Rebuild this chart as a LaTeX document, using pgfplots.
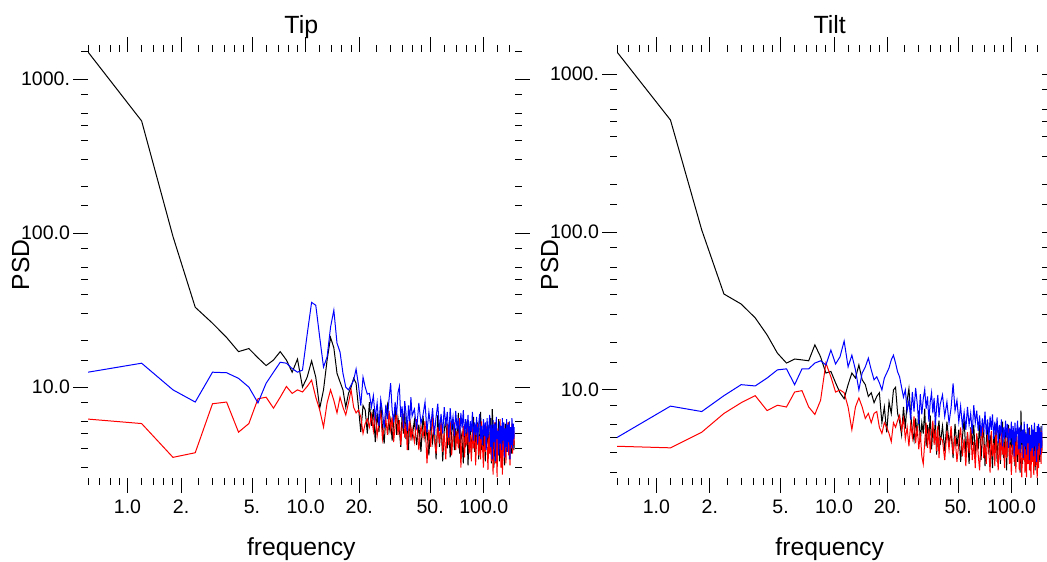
\documentclass[border=0pt]{standalone}
\usepackage{fontspec}
\setmainfont{Liberation Sans}
\usepackage{pgfplots}
\usepackage{pgfplotstable}
\pgfplotsset{compat=1.18}

% f = frequency, k = black, b = blue, r = red
\pgfplotstableread{
f k b r
0.6 1500 12.5 6.2
1.2 535 14.3 5.8
1.8 95 9.6 3.5
2.4 33 8.0 3.75
3.0 26 12.5 7.8
3.6 21 12.4 8.0
4.2 17 11.4 5.1
4.8 17.8 10.0 5.8
5.4 15.5 7.9 8.4
6.0 13.8 10.6 8.6
6.6 15 12.5 7.3
7.2 17 14.5 8.6
7.8 15 14.3 10.1
8.4 12.5 13.2 9.1
9.0 15.2 12.5 9.6
9.6 10 12.9 9.3
10.2 11.6 22 10.1
10.8 14.8 35.5 11.1
11.4 11.6 34 8.6
12.0 7.3 21 7.1
12.6 9.6 13.5 5.5
13.2 15 15.7 7.9
13.8 21 24.5 9.6
14.4 18 31.6 8.2
15.0 12.3 19.3 6.8
15.6 10.8 16.9 8.6
16.2 9.6 12.3 7.4
16.8 7.4 10 6.6
17.4 9.1 9.6 7.9
18.0 10 10.3 9.6
18.6 11.4 11.1 7.4
19.2 10.6 13.1 6.8
19.8 7.4 10.3 7.1
20.4 5.1 7.6 6.4
21.0 7.6 11.6 5.0
21.6 7.1 10 5.8
22.2 5.0 9.0 6.2
22.8 8.0 9.1 5.5
23.4 5.6 7.4 6.6
24.0 7.2 8.8 5.2
24.6 4.4 6.3 6.9
25.2 6.8 7.9 4.8
25.8 5.1 5.6 5.9
26.4 7.9 8.3 6.8
27.0 5.5 6.9 4.6
27.6 4.3 5.4 5.5
28.2 6.4 7.7 6.2
28.8 7.6 6.2 4.9
29.4 5.2 8.4 7.0
30.0 6.1 10.6 5.3
30.6 4.5 7.1 6.4
31.2 5.8 5.9 4.4
31.8 7.4 8.0 5.7
32.4 4.9 6.6 6.9
33.0 6.3 9.2 4.9
33.6 5.3 10.1 6.1
34.2 4.1 6.4 4.2
34.8 6.7 7.5 5.6
35.4 5.0 5.4 6.7
36.0 7.0 8.1 4.7
36.6 4.6 6.8 5.8
37.2 5.9 5.2 3.9
37.8 3.9 7.6 5.1
38.4 6.2 6.0 6.3
39.0 5.4 8.6 4.5
39.6 4.7 6.5 5.4
40.8 6.1 7.2 4.4
42.0 4.2 5.3 6.2
43.2 5.7 7.9 3.9
44.4 3.8 5.8 5.6
45.6 6.5 6.6 4.7
46.8 4.6 8.0 6.0
48.0 5.3 5.1 3.2
49.2 3.6 6.9 5.3
50.4 6.0 5.5 4.1
51.6 4.4 7.3 6.4
52.8 5.5 4.9 4.6
54.0 3.4 6.4 3.7
55.2 6.6 7.8 5.5
56.4 4.1 5.2 4.3
57.6 5.8 6.7 6.1
58.8 3.3 5.0 3.8
60.0 5.2 7.4 5.0
61.2 6.3 5.6 3.4
62.4 4.0 6.9 5.8
63.6 5.6 4.7 4.2
64.8 3.5 7.3 6.0
66.0 5.0 5.5 3.6
67.2 6.2 6.4 4.8
68.4 3.9 4.8 5.9
69.6 5.4 7.0 3.9
70.8 4.3 5.3 5.2
72.0 6.8 6.3 4.0
73.2 3.7 4.6 6.3
74.4 5.1 6.8 3.0
75.6 4.5 5.4 4.7
76.8 3.2 7.1 5.6
78.0 5.7 4.8 3.5
79.2 4.1 6.2 5.0
80.4 6.0 5.0 4.2
81.6 3.1 6.6 6.1
82.8 4.9 4.4 3.7
84.0 5.8 6.0 4.9
85.2 3.6 5.1 3.3
86.4 4.8 6.9 5.4
87.6 6.4 4.5 4.0
88.8 3.8 5.9 5.7
90.0 5.0 4.9 3.1
91.2 4.2 6.4 4.6
92.4 5.9 4.3 5.8
93.6 3.4 5.7 3.6
94.8 4.7 6.7 4.8
96.0 6.9 4.6 3.4
97.2 3.9 5.6 6.0
98.4 5.2 4.2 4.1
99.6 4.0 6.2 3.0
100.8 5.6 4.8 5.1
102.0 3.3 5.9 3.8
103.2 4.9 3.9 5.6
104.4 4.3 6.3 4.4
105.6 5.7 4.7 2.9
106.8 3.7 5.5 4.9
108.0 4.6 6.6 3.7
109.2 6.3 4.1 5.5
110.4 3.2 5.7 3.3
111.6 7.2 3.4 4.6
112.8 5.4 6.1 2.7
114.0 3.0 4.4 4.3
115.2 4.4 5.8 5.9
116.4 5.9 3.3 3.2
117.6 3.5 6.4 4.8
118.8 4.9 4.6 2.6
120.0 4.1 5.2 5.4
121.2 6.2 3.6 3.6
122.4 3.3 6.0 4.4
123.6 5.1 4.3 6.2
124.8 4.4 5.6 3.0
126.0 3.6 3.9 4.9
127.2 5.5 6.3 2.7
128.4 4.0 4.5 4.0
129.6 4.7 5.9 5.6
130.8 3.1 3.5 3.5
132.0 5.8 5.4 4.7
133.2 4.3 4.1 3.2
134.4 3.8 6.2 5.3
135.6 5.3 3.8 4.1
136.8 4.1 5.7 5.9
138.0 5.9 4.4 3.6
139.2 3.4 6.0 4.5
140.4 4.6 3.4 3.1
141.6 5.2 5.5 5.2
142.8 3.7 4.2 4.0
144.0 4.9 6.3 5.8
145.2 4.2 4.0 3.7
146.4 5.6 5.8 4.6
147.6 3.9 4.6 5.2
148.8 4.5 5.5 4.2
}\tipdata

\pgfplotstableread{
f k b r
0.6 1380 5.0 4.4
1.2 512 7.9 4.3
1.8 103 7.3 5.4
2.4 40.5 9.2 7.1
3.0 35 10.8 8.3
3.6 28.6 10.6 9.2
4.2 22.3 11.9 7.4
4.8 17.1 13.4 8.0
5.4 14.8 13.6 7.8
6.0 15.7 10.8 9.7
6.6 15.5 13.6 9.9
7.2 15.3 13.6 7.8
7.8 19.3 14.8 7.0
8.4 16.2 15.3 8.6
9.0 12.8 14.4 14.8
9.6 13.1 17.9 12.1
10.2 11.1 14.6 9.7
10.8 9.6 16.2 10
11.4 8.8 20.4 9.6
12.0 10.8 14.0 7.8
12.6 12.8 16.6 5.6
13.2 11.9 13.4 7.8
13.8 14.4 10 8.9
14.4 11.6 12.8 7.8
15.0 10.8 14 6.6
15.6 9.1 15.9 7.1
16.2 9.6 13.4 6.2
16.8 8.3 11.6 7.1
17.4 9.1 12.1 7.3
18.0 9.6 11.1 5.8
18.6 6.2 10 5.3
19.2 7.8 11.9 6.2
19.8 5.4 12.8 5.8
20.4 8.4 13.8 5.3
21.0 7.1 15.5 4.7
21.6 10 16.6 6.2
22.2 10.4 14.8 5.8
22.8 7.1 13.0 6.4
23.4 6.3 12.1 6.9
24.0 5.2 10.4 5.6
24.6 7.8 9.0 6.6
25.2 5.7 10.0 4.9
25.8 8.6 7.4 5.8
26.4 10.2 8.6 4.4
27.0 7.0 6.5 6.1
27.6 5.6 9.7 5.0
28.2 4.8 7.3 6.8
28.8 6.6 10.3 4.6
29.4 5.1 8.2 5.9
30.0 7.4 6.1 4.2
30.6 4.7 9.4 5.4
31.2 6.2 7.0 3.8
31.8 5.3 8.8 3.4
32.4 7.6 10.1 4.7
33.0 4.4 7.6 6.2
33.6 6.0 9.1 4.3
34.2 5.0 6.3 5.7
34.8 6.9 8.4 4.0
35.4 4.2 9.6 5.3
36.0 5.8 7.1 6.4
36.6 4.9 8.9 4.5
37.2 6.5 6.0 5.6
37.8 3.9 7.8 4.1
38.4 5.5 9.3 5.9
39.0 6.4 6.7 3.7
39.6 4.5 8.1 5.0
40.8 5.9 9.3 4.8
42.0 4.1 6.8 3.6
43.2 6.3 8.4 5.5
44.4 4.6 6.2 4.2
45.6 5.4 7.7 5.9
46.8 3.7 11.0 3.9
48.0 6.1 7.4 5.1
49.2 4.4 8.6 3.5
50.4 5.6 6.3 4.6
51.6 3.5 7.9 5.8
52.8 5.0 5.9 3.8
54.0 6.5 7.2 4.9
55.2 4.0 5.6 3.3
56.4 5.3 7.8 5.4
57.6 3.4 6.0 4.0
58.8 5.8 7.1 5.7
60.0 4.5 5.3 3.6
61.2 6.0 8.0 4.7
62.4 3.8 6.2 3.2
63.6 5.1 7.4 5.3
64.8 4.2 5.5 3.9
66.0 6.4 6.9 3.1
67.2 3.6 5.1 4.8
68.4 4.9 6.6 5.9
69.6 5.7 5.4 3.7
70.8 3.3 7.3 4.5
72.0 4.8 5.2 3.4
73.2 6.2 6.5 5.2
74.4 3.9 4.8 4.1
75.6 5.2 6.8 3.0
76.8 4.4 5.6 5.5
78.0 3.2 7.0 3.8
79.2 5.5 4.9 4.6
80.4 4.0 6.3 3.3
81.6 6.1 5.2 5.6
82.8 3.5 6.7 4.0
84.0 4.7 4.6 3.1
85.2 5.8 6.0 4.9
86.4 3.4 5.3 3.6
87.6 4.9 6.5 5.3
88.8 6.3 4.4 3.9
90.0 3.7 5.8 4.6
91.2 4.5 4.9 3.2
92.4 5.6 6.4 5.0
93.6 3.1 5.0 3.7
94.8 4.8 6.1 4.4
96.0 6.0 4.3 5.7
97.2 3.6 5.7 3.4
98.4 4.3 4.8 4.5
99.6 5.4 6.3 2.9
100.8 3.9 4.5 4.2
102.0 5.0 5.9 5.4
103.2 4.2 3.8 3.5
104.4 3.3 6.2 4.7
105.6 5.7 4.7 3.0
106.8 4.1 5.5 5.1
108.0 3.5 6.4 3.9
109.2 5.3 4.2 4.4
110.4 4.4 5.8 3.1
111.6 3.0 4.0 5.3
112.8 7.4 6.0 3.7
114.0 4.6 4.6 2.8
115.2 3.4 5.6 4.5
116.4 5.1 3.7 3.6
117.6 4.0 6.3 5.6
118.8 5.6 4.4 3.0
120.0 3.2 5.3 4.2
121.2 4.7 3.9 2.8
122.4 5.4 6.1 4.9
123.6 3.7 4.6 3.4
124.8 4.3 5.7 5.7
126.0 5.8 3.6 3.1
127.2 3.3 5.2 4.3
128.4 4.9 4.1 2.7
129.6 4.1 6.0 4.6
130.8 5.5 4.3 3.5
132.0 3.6 5.6 5.0
133.2 4.5 3.8 2.9
134.4 5.9 6.2 4.1
135.6 3.1 4.4 3.3
136.8 4.6 5.4 5.4
138.0 5.2 3.5 3.8
139.2 3.8 5.9 2.7
140.4 4.9 4.2 4.4
141.6 4.0 6.1 3.2
142.8 5.6 4.6 5.1
144.0 3.5 5.8 3.9
145.2 4.4 3.9 4.6
146.4 5.9 5.4 3.4
147.6 4.1 4.3 5.5
148.8 4.8 6.0 4.0
}\tiltdata

\begin{document}
\begin{tikzpicture}
\path[use as bounding box] (0,0) rectangle (523.5bp,281bp);

\begin{axis}[name=tip, at={(44bp,42bp)}, anchor=south west,
    scale only axis, width=213.3bp, height=213bp,
    xmode=log, ymode=log,
    xmin=0.6, xmax=149, ymin=2.57, ymax=1500,
    axis line style={draw=none},
    tick align=outside,
    tick style={black, line width=0.5bp},
    major tick length=7.5bp, minor tick length=3.5bp,
    xtick={1,2,5,10,20,50,100},
    xticklabels={1.0,2.,5.,10.0,20.,50.,100.0},
    minor xtick={0.6,0.7,0.8,0.9,1.2,1.4,1.6,1.8,2.5,3,3.5,4,4.5,6,7,8,9,12,14,16,18,25,30,35,40,45,60,70,80,90,120,140},
    ytick={10,100,1000},
    yticklabels={10.0,100.0,1000.},
    minor ytick={3,4,5,6,8,15,20,30,40,50,60,80,150,200,300,400,500,600,800,1500},
    tick label style={font=\fontsize{9.8}{11}\selectfont},
    yticklabel style={xshift=2bp},
    title={Tip},
    title style={anchor=base, yshift=3.5bp, font=\fontsize{12.5}{14}\selectfont},
    xlabel={frequency},
    xlabel style={at={(0.5,0)}, anchor=base, yshift=-38.5bp, font=\fontsize{12.4}{14}\selectfont},
]
\addplot[black, line width=0.5bp] table[x=f, y=k] {\tipdata};
\addplot[red, line width=0.5bp] table[x=f, y=r] {\tipdata};
\addplot[blue, line width=0.5bp] table[x=f, y=b] {\tipdata};
\end{axis}
\node[rotate=90, anchor=base, font=\fontsize{12.4}{14}\selectfont] at ([xshift=-29.5bp]tip.west) {PSD};

\begin{axis}[name=tilt, at={(308.5bp,42bp)}, anchor=south west,
    scale only axis, width=212.7bp, height=213bp,
    xmode=log, ymode=log,
    xmin=0.6, xmax=149, ymin=2.77, ymax=1380,
    axis line style={draw=none},
    tick align=outside,
    tick style={black, line width=0.5bp},
    major tick length=7.5bp, minor tick length=3.5bp,
    xtick={1,2,5,10,20,50,100},
    xticklabels={1.0,2.,5.,10.0,20.,50.,100.0},
    minor xtick={0.6,0.7,0.8,0.9,1.2,1.4,1.6,1.8,2.5,3,3.5,4,4.5,6,7,8,9,12,14,16,18,25,30,35,40,45,60,70,80,90,120,140},
    ytick={10,100,1000},
    yticklabels={10.0,100.0,1000.},
    minor ytick={3,4,5,6,8,15,20,30,40,50,60,80,150,200,300,400,500,600,800},
    tick label style={font=\fontsize{9.8}{11}\selectfont},
    yticklabel style={xshift=2bp},
    title={Tilt},
    title style={anchor=base, yshift=3.5bp, font=\fontsize{12.5}{14}\selectfont},
    xlabel={frequency},
    xlabel style={at={(0.5,0)}, anchor=base, yshift=-38.5bp, font=\fontsize{12.4}{14}\selectfont},
]
\addplot[black, line width=0.5bp] table[x=f, y=k] {\tiltdata};
\addplot[red, line width=0.5bp] table[x=f, y=r] {\tiltdata};
\addplot[blue, line width=0.5bp] table[x=f, y=b] {\tiltdata};
\end{axis}
\node[rotate=90, anchor=base, font=\fontsize{12.4}{14}\selectfont] at ([xshift=-29.5bp]tilt.west) {PSD};
\end{tikzpicture}
\end{document}
